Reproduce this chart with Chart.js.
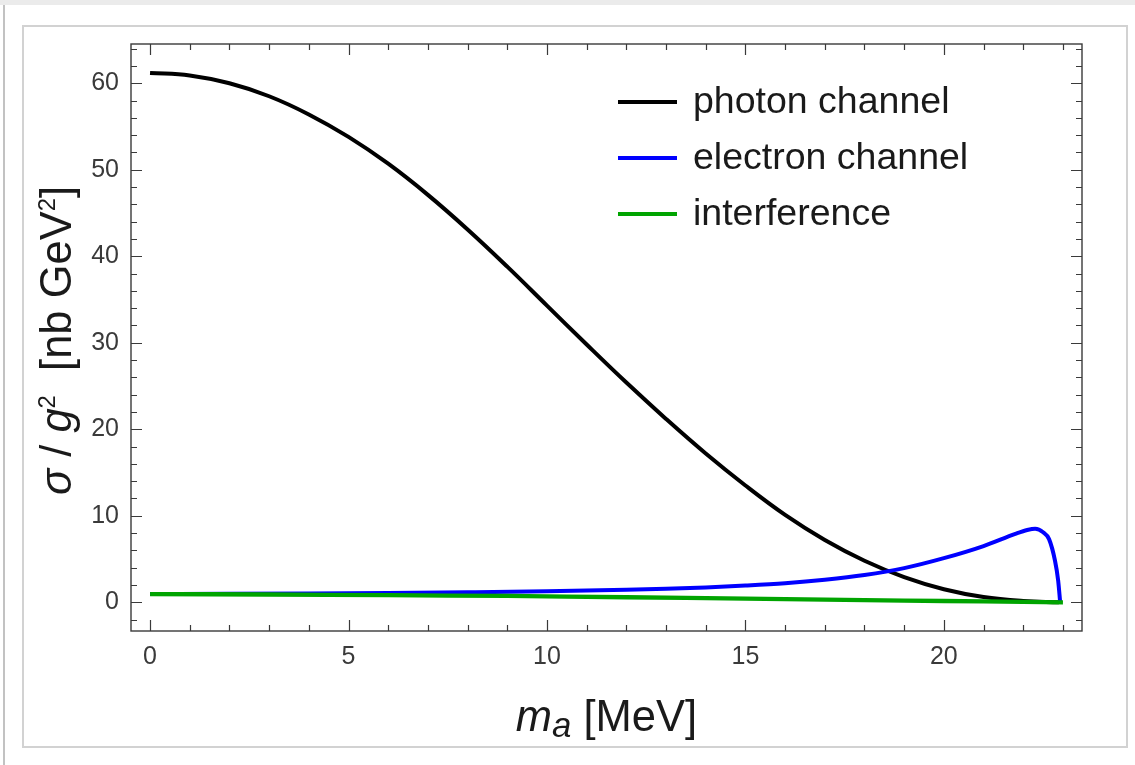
<!DOCTYPE html>
<html>
<head>
<meta charset="utf-8">
<script src="https://cdn.jsdelivr.net/npm/chart.js@4.4.0/dist/chart.umd.min.js"></script>
<style>
    html, body { margin: 0; padding: 0; background: #fff; }
    #page { position: relative; width: 1135px; height: 765px; overflow: hidden; }
    #topband { position: absolute; left: 0; top: 0; width: 1135px; height: 5px; background: #ebebeb; }
    #leftline { position: absolute; left: 3px; top: 5px; width: 2px; height: 760px; background: #c2c2c2; }
    #frame { position: absolute; left: 22px; top: 25px; width: 1102px; height: 719px; border: 2px solid #d2d2d2; }
    #chart { position: absolute; left: 0; top: 0; }
</style>
</head>
<body>
<div id="page">
    <div id="topband"></div>
    <div id="leftline"></div>
    <div id="frame"></div>
    <canvas id="chart" width="1135" height="765"></canvas>
</div>
<script>
// valores
const photonMass = [0, 1, 2, 3, 4, 5, 6, 7, 8, 9, 10, 11, 12, 13, 14, 15, 16, 17, 18, 19, 20, 21, 22, 22.9];
const photonSigma = [61.2, 60.9, 60.0, 58.5, 56.4, 53.8, 50.7, 47.1, 43.1, 38.8, 34.3, 29.8, 25.4, 21.2, 17.2, 13.5, 10.1, 7.2, 4.8, 2.9, 1.5, 0.6, 0.15, 0.0];

const electronMass = [0, 2, 4, 6, 8, 10, 12, 13, 14, 15, 16, 17, 18, 19, 20, 21, 21.8, 22.1, 22.3, 22.5, 22.65, 22.8, 22.88, 22.93];
const electronSigma = [0.95, 0.98, 1.02, 1.08, 1.16, 1.27, 1.45, 1.57, 1.72, 1.93, 2.2, 2.6, 3.15, 3.95, 5.1, 6.5, 7.9, 8.35, 8.5, 8.1, 7.3, 4.8, 2.5, 0.0];

const interfMass = [0, 3, 6, 9, 12, 15, 18, 20, 22, 23];
const interfSigma = [0.95, 0.9, 0.82, 0.73, 0.58, 0.42, 0.25, 0.15, 0.05, 0.0];

const xTickLabels = [0, 5, 10, 15, 20];
const yTickLabels = [0, 10, 20, 30, 40, 50, 60];

const seriesLabels = ['photon channel', 'electron channel', 'interference'];
const seriesColors = ['#000000', '#0000ff', '#00a400'];

const FONT = '"Liberation Sans", Arial, Helvetica, sans-serif';

function toPoints(xs, ys) {
    return xs.map((x, i) => ({ x: x, y: ys[i] }));
}

// marco con ticks hacia adentro en los 4 lados
const frameTicks = {
    id: 'frameTicks',
    afterDraw(chart) {
        const ctx = chart.ctx;
        const a = chart.chartArea;
        const sx = chart.scales.x;
        const sy = chart.scales.y;
        ctx.save();
        ctx.strokeStyle = '#3a3a3a';
        ctx.lineWidth = 1.4;
        ctx.strokeRect(a.left, a.top, a.right - a.left, a.bottom - a.top);
        ctx.beginPath();
        for (let v = 0; v <= 23; v++) {
            const px = Math.round(sx.getPixelForValue(v)) + 0.5;
            const len = xTickLabels.includes(v) ? 11 : 6;
            ctx.moveTo(px, a.bottom); ctx.lineTo(px, a.bottom - len);
            ctx.moveTo(px, a.top); ctx.lineTo(px, a.top + len);
        }
        for (let v = -2; v <= 64; v += 2) {
            const py = Math.round(sy.getPixelForValue(v)) + 0.5;
            const len = yTickLabels.includes(v) ? 11 : 6;
            ctx.moveTo(a.left, py); ctx.lineTo(a.left + len, py);
            ctx.moveTo(a.right, py); ctx.lineTo(a.right - len, py);
        }
        ctx.lineWidth = 1.2;
        ctx.stroke();
        ctx.restore();
    }
};

// texto con cursiva / superindice / subindice
function drawRich(ctx, segs, size, x0, y0, measureOnly) {
    let x = x0;
    segs.forEach(s => {
        const fs = size * (s.scale || 1);
        ctx.font = (s.italic ? 'italic ' : '') + fs + 'px ' + FONT;
        if (!measureOnly) ctx.fillText(s.t, x, y0 + (s.dy || 0));
        x += ctx.measureText(s.t).width;
    });
    return x - x0;
}

const axisTitles = {
    id: 'axisTitles',
    afterDraw(chart) {
        const ctx = chart.ctx;
        const a = chart.chartArea;
        ctx.save();
        ctx.fillStyle = '#1a1a1a';
        ctx.textBaseline = 'alphabetic';
        ctx.textAlign = 'left';

        const xs = [
            { t: 'm', italic: true },
            { t: 'a', italic: true, scale: 0.8, dy: 6 },
            { t: ' [MeV]' }
        ];
        const wx = drawRich(ctx, xs, 43.5, 0, 0, true);
        drawRich(ctx, xs, 43.5, (a.left + a.right) / 2 - wx / 2, 731);

        const ys = [
            { t: '\u03C3', italic: true },
            { t: ' / ' },
            { t: 'g', italic: true },
            { t: '2', scale: 0.55, dy: -16 },
            { t: '  [nb GeV' },
            { t: '2', scale: 0.55, dy: -16 },
            { t: ']' }
        ];
        const wy = drawRich(ctx, ys, 43.5, 0, 0, true);
        ctx.translate(71, (a.top + a.bottom) / 2 + 3);
        ctx.rotate(-Math.PI / 2);
        drawRich(ctx, ys, 43.5, -wy / 2, 0);
        ctx.restore();
    }
};

const insideLegend = {
    id: 'insideLegend',
    afterDraw(chart) {
        const ctx = chart.ctx;
        ctx.save();
        ctx.font = '37.5px ' + FONT;
        ctx.textBaseline = 'alphabetic';
        ctx.fillStyle = '#1a1a1a';
        chart.data.datasets.forEach((ds, i) => {
            const ly = 102 + i * 56;
            ctx.strokeStyle = ds.borderColor;
            ctx.lineWidth = 3.8;
            ctx.beginPath();
            ctx.moveTo(618, ly);
            ctx.lineTo(677, ly);
            ctx.stroke();
            ctx.fillText(ds.label, 693, ly + 11);
        });
        ctx.restore();
    }
};

const ctx = document.getElementById('chart');
new Chart(ctx, {
    type: 'line',
    data: {
        datasets: [{
            label: seriesLabels[0],
            data: toPoints(photonMass, photonSigma),
            borderColor: seriesColors[0],
            borderWidth: 4,
            tension: 0.4,
            order: 2
        }, {
            label: seriesLabels[1],
            data: toPoints(electronMass, electronSigma),
            borderColor: seriesColors[1],
            borderWidth: 4,
            cubicInterpolationMode: 'monotone',
            order: 1
        }, {
            label: seriesLabels[2],
            data: toPoints(interfMass, interfSigma),
            borderColor: seriesColors[2],
            borderWidth: 4.3,
            tension: 0.4,
            order: 0
        }]
    },
    options: {
        responsive: false,
        animation: false,
        devicePixelRatio: 1,
        layout: { padding: { left: 0, top: 44, right: 53, bottom: 0 } },
        elements: {
            point: { radius: 0 },
            line: { fill: false, borderCapStyle: 'butt', borderJoinStyle: 'round' }
        },
        plugins: {
            legend: { display: false },
            tooltip: { enabled: false }
        },
        scales: {
            x: {
                type: 'linear',
                min: -0.48,
                max: 23.48,
                afterBuildTicks: s => { s.ticks = xTickLabels.map(v => ({ value: v })); },
                afterFit: s => { s.height = 134; },
                grid: { display: false, drawTicks: false },
                border: { display: false },
                ticks: {
                    font: { family: FONT, size: 25 },
                    color: '#3a3a3a',
                    padding: 11,
                    maxRotation: 0,
                    autoSkip: false
                }
            },
            y: {
                type: 'linear',
                min: -3.32,
                max: 64.54,
                afterBuildTicks: s => { s.ticks = yTickLabels.map(v => ({ value: v })); },
                afterFit: s => { s.width = 131; },
                grid: { display: false, drawTicks: false },
                border: { display: false },
                ticks: {
                    font: { family: FONT, size: 25 },
                    color: '#3a3a3a',
                    padding: 12,
                    autoSkip: false
                }
            }
        }
    },
    plugins: [frameTicks, axisTitles, insideLegend]
});
</script>
</body>
</html>
